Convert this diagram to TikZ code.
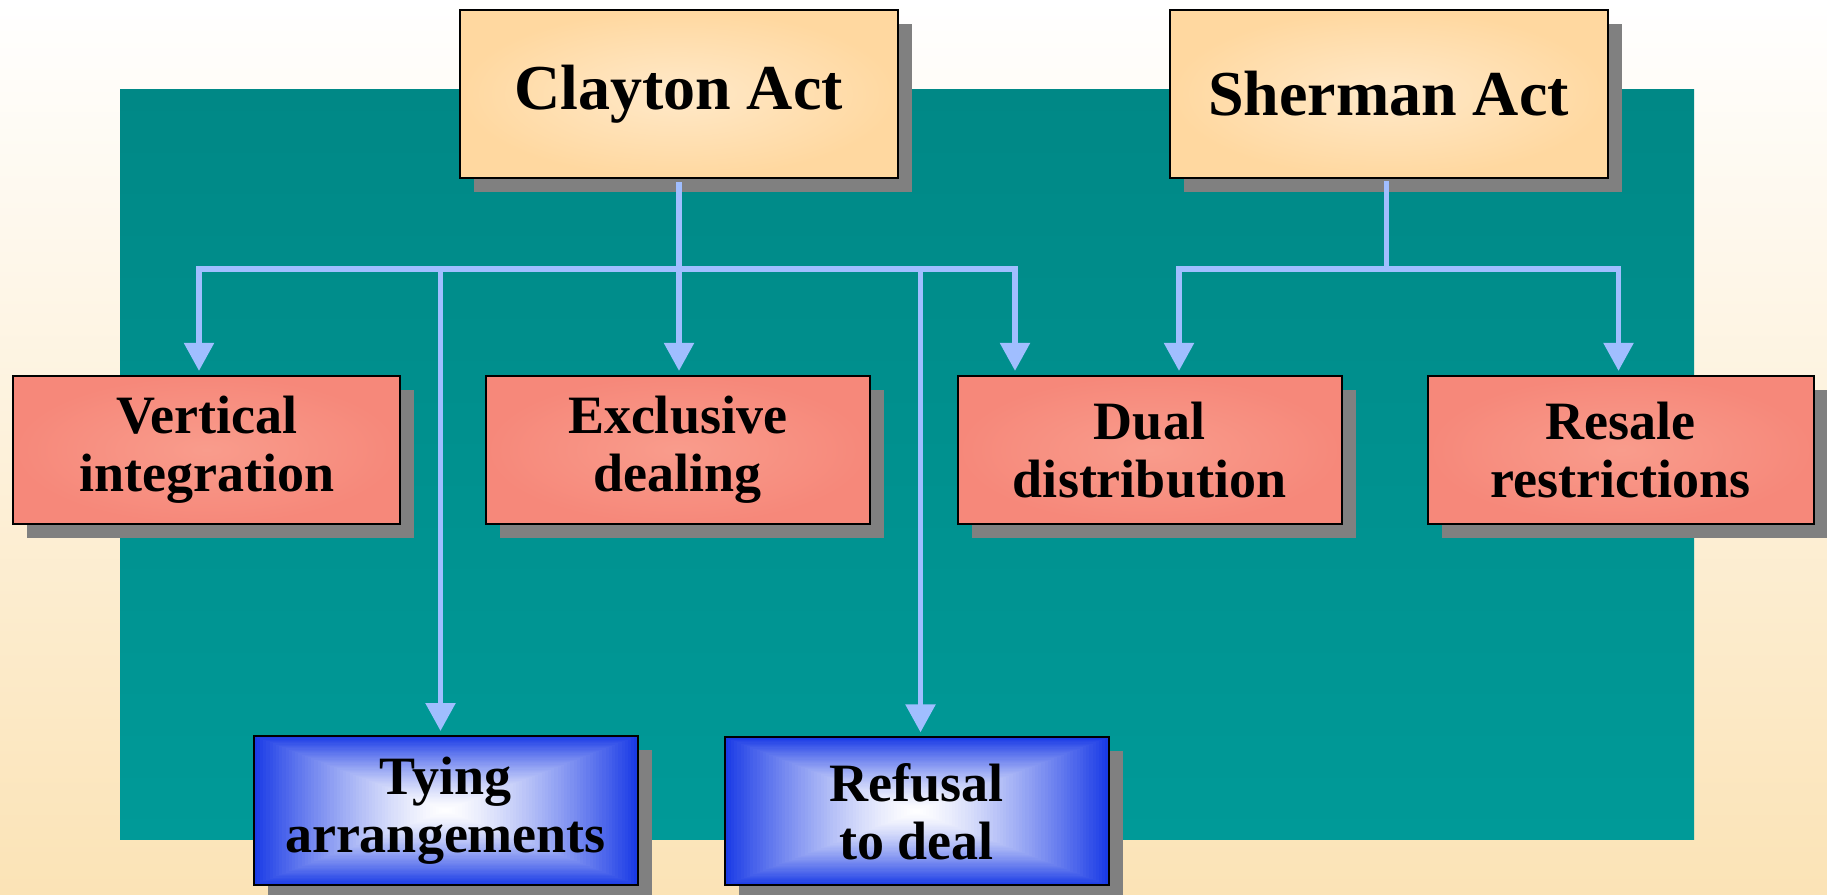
\documentclass[tikz,border=0pt]{standalone}
\usepackage{fontspec}
\setmainfont{Liberation Serif}
\usetikzlibrary{arrows.meta,shadows,calc}

\definecolor{pagetop}{HTML}{FFFFFF}
\definecolor{pagebot}{HTML}{FBE3B6}
\definecolor{panelTop}{HTML}{008886}
\definecolor{panelBot}{HTML}{009A98}
\definecolor{actEdge}{HTML}{FFD8A0}
\definecolor{actMid}{HTML}{FFE9C9}
\definecolor{redEdge}{HTML}{F6887A}
\definecolor{redMid}{HTML}{F99C8C}
\definecolor{blueEdge}{HTML}{1A3BE6}
\definecolor{linkBlue}{HTML}{A0BEFF}
\definecolor{boxShadow}{HTML}{808080}

\tikzset{
  box/.style={draw=black, line width=2pt, inner sep=0pt, align=center,
    general shadow={fill=boxShadow, shadow xshift=14pt, shadow yshift=-14pt}},
  actbox/.style={box, inner color=actMid, outer color=actEdge,
    minimum width=438pt, minimum height=168pt,
    font=\fontsize{64}{70}\selectfont\bfseries},
  practicebox/.style={box, inner color=redMid, outer color=redEdge,
    minimum width=384pt, minimum height=148pt,
    font=\fontsize{54}{58}\selectfont\bfseries},
  conductbox/.style={box, minimum width=384pt, minimum height=148pt,
    font=\fontsize{54}{58}\selectfont\bfseries,
    path picture={
      \foreach \k in {60,59,...,1}{
        \pgfmathsetmacro\f{\k/60}
        \pgfmathsetmacro\p{100*\f^1.4}
        \fill[blueEdge!\p!white]
          ($(path picture bounding box.center)!\f!(path picture bounding box.north east)$)
          rectangle
          ($(path picture bounding box.center)!\f!(path picture bounding box.south west)$);
      }
    }},
  link/.style={draw=linkBlue, line width=5.5pt, line cap=rect},
  arr/.style={draw=linkBlue, line width=5.5pt,
    -{Triangle[width=29pt,length=28pt]}, shorten >=4pt}
}

\begin{document}
\begin{tikzpicture}[x=1pt,y=-1pt]
  % page and panel
  \useasboundingbox (0,0) rectangle (1827,894);
  \shade[top color=pagetop, bottom color=pagebot] (0,0) rectangle (1827,894);
  \shade[top color=panelTop, bottom color=panelBot] (120,89.7) rectangle (1694,839.5);

  % the two acts
  \node[actbox] (clayton) at (678.5,93.9) {Clayton Act};
  \node[actbox] (sherman) at (1388.5,93.9) {Sherman Act};

  % practices
  \node[practicebox, minimum width=387pt] (vert) at (206.7,449.9) {Vertical\\integration};
  \node[practicebox] (excl) at (677.5,449.9) {Exclusive\\dealing};
  \node[practicebox] (dual) at (1149.5,449.9) {Dual\\distribution};
  \node[practicebox, minimum width=386pt] (resale) at (1620.9,449.9) {Resale\\restrictions};

  \node[conductbox, minimum height=149pt] (tying) at (445.5,810.5) {Tying\\arrangements};
  \node[conductbox] (refusal) at (916.5,811.4) {Refusal\\to deal};

  % junction points of the Clayton Act branch
  \coordinate (jc) at (679,269);
  \coordinate (cl) at (199,269);
  \coordinate (cr) at (1015,269);
  \coordinate (ct) at (440.5,269);
  \coordinate (cf) at (920.5,269);

  % junction points of the Sherman Act branch
  \coordinate (js) at (1386.6,269);
  \coordinate (sl) at (1179,269);
  \coordinate (sr) at (1618.5,269);

  % Clayton Act connectors
  \draw[link, shorten <=6pt] (jc |- clayton.south) -- (jc);
  \draw[link] (cl) -- (cr);
  \draw[arr] (cl) -- (cl |- vert.north);
  \draw[arr] (ct) -- (ct |- tying.north);
  \draw[arr] (jc) -- (jc |- excl.north);
  \draw[arr] (cf) -- (cf |- refusal.north);
  \draw[arr] (cr) -- (cr |- dual.north);

  % Sherman Act connectors
  \draw[link, shorten <=5pt] (js |- sherman.south) -- (js);
  \draw[link] (sl) -- (sr);
  \draw[arr] (sl) -- (sl |- dual.north);
  \draw[arr] (sr) -- (sr |- resale.north);
\end{tikzpicture}
\end{document}
